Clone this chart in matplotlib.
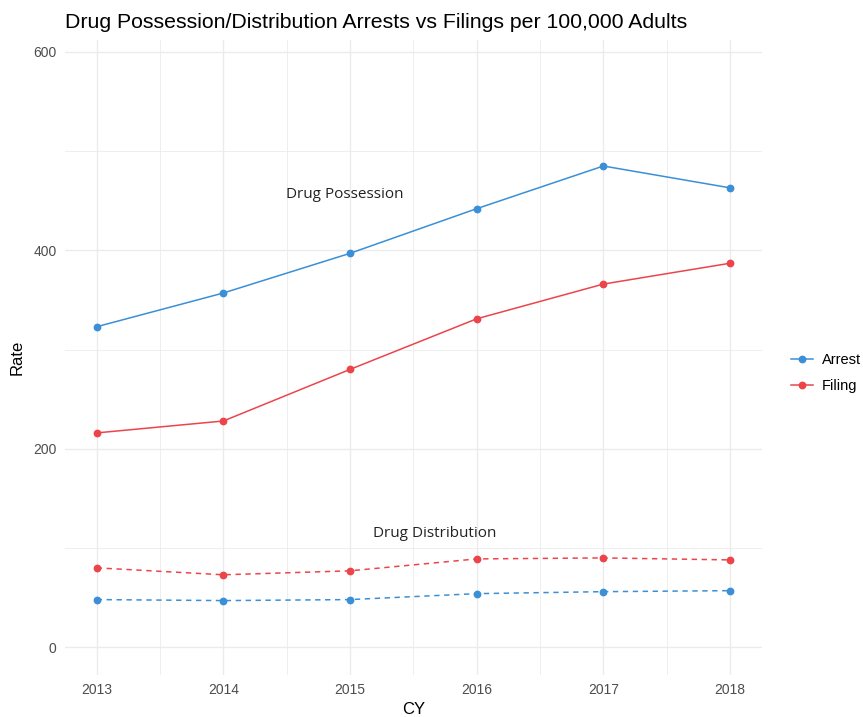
import matplotlib
matplotlib.use("Agg")
import matplotlib.pyplot as plt
from matplotlib.lines import Line2D

years = [2013, 2014, 2015, 2016, 2017, 2018]
poss_arrest = [323, 357, 397, 442, 485, 463]
poss_filing = [216, 228, 280, 331, 366, 387]
dist_arrest = [48, 47, 48, 54, 56, 57]
dist_filing = [80, 73, 77, 89, 90, 88]
y_ticks = [0, 200, 400, 600]
legend_labels = ["Arrest", "Filing"]

BLUE = "#3a8fd6"
RED = "#eb454b"
GRID = "#ebebeb"

fig = plt.figure(figsize=(8.63, 7.17), dpi=100)
ax = fig.add_axes([65/863, 1-675/717, (761.7-65)/863, (675-40)/717])

for s in ax.spines.values():
    s.set_visible(False)

lw = 1.1
ms = 4.6
ax.plot(years, poss_arrest, color=BLUE, lw=lw, marker="o", ms=ms, zorder=3)
ax.plot(years, poss_filing, color=RED, lw=lw, marker="o", ms=ms, zorder=3)
ax.plot(years, dist_arrest, color=BLUE, lw=lw, marker="o", ms=ms, ls=(0, (3.5, 3)), zorder=3)
ax.plot(years, dist_filing, color=RED, lw=lw, marker="o", ms=ms, ls=(0, (3.5, 3)), zorder=3)

ax.text(2014.96, 456, "Drug Possession", ha="center", va="center",
        fontsize=11, family="Open Sans", color="#222222")
ax.text(2015.67, 115, "Drug Distribution", ha="center", va="center",
        fontsize=11, family="Open Sans", color="#222222")

ax.set_xlim(2012.75, 2018.25)
ax.set_ylim(-28, 612)
ax.set_xticks(years)
ax.set_xticklabels([str(y) for y in years])
ax.set_yticks(y_ticks)
ax.set_xticks([y + 0.5 for y in years[:-1]], minor=True)
ax.set_yticks([100, 300, 500], minor=True)
ax.grid(True, which="major", color=GRID, lw=1.0, zorder=0)
ax.grid(True, which="minor", color=GRID, lw=0.6, zorder=0)
ax.tick_params(which="both", length=0)
ax.tick_params(axis="both", labelsize=10, labelcolor="#4d4d4d", pad=6)
for lab in ax.get_xticklabels() + ax.get_yticklabels():
    lab.set_family("Liberation Sans")

ax.set_xlabel("CY", fontsize=12, family="Liberation Sans", labelpad=3)
ax.set_ylabel("Rate", fontsize=12, family="Liberation Sans", labelpad=6)

fig.text(65/863, 1-22/717, "Drug Possession/Distribution Arrests vs Filings per 100,000 Adults",
         ha="left", va="center", fontsize=15.3, family="Liberation Sans")

handles = [Line2D([], [], color=BLUE, lw=lw, marker="o", ms=ms),
           Line2D([], [], color=RED, lw=lw, marker="o", ms=ms)]
leg = fig.legend(handles, legend_labels, loc="center left",
                 bbox_to_anchor=(788/863, 1-373/717), frameon=False,
                 prop={"family": "Liberation Sans", "size": 10.5},
                 handlelength=1.5, labelspacing=0.85, handletextpad=0.6,
                 borderpad=0.2, borderaxespad=0)

fig.savefig("out.png", dpi=100)
